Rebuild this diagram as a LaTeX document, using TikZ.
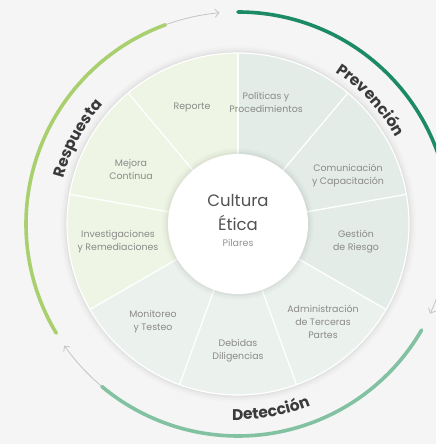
\documentclass[tikz,border=0pt]{standalone}
\usepackage{fontspec}
\setmainfont{Poppins}
\usetikzlibrary{arrows.meta,decorations.text,calc}
\definecolor{bg}{HTML}{F5F5F5}
\definecolor{respseg}{HTML}{EEF5E4}
\definecolor{prevseg}{HTML}{E3ECE7}
\definecolor{detseg}{HTML}{EBF1ED}
\definecolor{resparc}{HTML}{A9CF6E}
\definecolor{prevarc}{HTML}{1C8A66}
\definecolor{detarc}{HTML}{82C2A2}
\definecolor{lbl}{HTML}{3A3A3A}
\definecolor{seglbl}{HTML}{8A8A8A}
\definecolor{arrowgrey}{HTML}{C4C4C4}
\newcommand{\phaselabelfont}{\fontsize{15.5}{18}\selectfont\bfseries}
\begin{document}
\begin{tikzpicture}[x=1pt,y=1pt,
  seglabel/.style={align=center,text=seglbl,font=\fontsize{9.4}{13}\selectfont,inner sep=0pt},
  phasearc/.style={line width=3.6pt,line cap=round},
  greyarrow/.style={draw=arrowgrey,line width=0.8pt,-{Straight Barb[length=4pt,width=8pt]}},
  divider/.style={draw=white,line width=1.3pt}]
\useasboundingbox (0,0) rectangle (436,444);
\clip (0,0) rectangle (436,444);
\fill[bg] (0,0) rectangle (436,444);
\coordinate (O) at (238,220);
% soft shadow of ring
\foreach \r/\o in {178/0.012,176/0.018,174/0.022,172.5/0.028}{\fill[black,opacity=\o] (O) circle (\r);}
% segments
\foreach \a/\c in {90/respseg,130/respseg,170/respseg,210/detseg,250/detseg,290/detseg,330/prevseg,10/prevseg,50/prevseg}{
  \fill[\c] (O) -- ($(O)+(\a:171)$) arc[start angle=\a,end angle=\a+40,radius=171] -- cycle;}
\draw[white,line width=1.2pt] (O) circle (171);
\foreach \a in {90,130,170,210,250,290,330,10,50}{\draw[divider] (O) -- ($(O)+(\a:171)$);}
% centre circle with shadow
\foreach \r/\o in {76/0.015,74/0.02,72/0.03}{\fill[black,opacity=\o] (O) circle (\r);}
\fill[white] (O) circle (70);
\node[font=\fontsize{16.5}{22}\selectfont,text=black!68,align=center,inner sep=0pt] (c1) at (238,244) {Cultura};
\node[font=\fontsize{16.5}{22}\selectfont,text=black!68,align=center,inner sep=0pt] (c2) at (238,221) {Ética};
\node[font=\fontsize{9.5}{11}\selectfont,text=black!42,inner sep=0pt] (c3) at (238,201) {Pilares};
% segment labels
\node[seglabel] (reporte) at (192,337) {Reporte};
\node[seglabel] (politicas) at (266,342) {Políticas y\\Procedimientos};
\node[seglabel] (comunic) at (348,268) {Comunicación\\y Capacitación};
\node[seglabel] (gestion) at (356,202) {Gestión\\de Riesgo};
\node[seglabel] (admin) at (323,122) {Administración\\de Terceras\\Partes};
\node[seglabel] (debidas) at (238,93) {Debidas\\Diligencias};
\node[seglabel] (monitoreo) at (153,122) {Monitoreo\\y Testeo};
\node[seglabel] (investig) at (118,202) {Investigaciones\\y Remediaciones};
\node[seglabel] (mejora) at (131,275) {Mejora\\Continua};
% phase arcs
\draw[phasearc,resparc] ($(O)+(211:212)$) arc[start angle=211,end angle=110,radius=212];
\draw[phasearc,prevarc] ($(O)+(90:212)$) arc[start angle=90,end angle=-10,radius=212];
\draw[phasearc,detarc] ($(O)+(-30:212)$) arc[start angle=-30,end angle=-130,radius=212];
% grey arrows
\draw[greyarrow] ($(O)+(110:212)$) arc[start angle=110,end angle=95,radius=212];
\draw[greyarrow] ($(O)+(-10:212)$) arc[start angle=-10,end angle=-25,radius=212];
\draw[greyarrow] ($(O)+(-130:212)$) arc[start angle=-130,end angle=-145,radius=212];
% phase labels
\path[decorate,decoration={text along path,text={|\phaselabelfont|Respuesta},text align=center,text color=lbl}]
  ($(O)+(195:180)$) arc[start angle=195,end angle=109,radius=180];
\path[decorate,decoration={text along path,text={|\phaselabelfont|Prevención},text align=center,text color=lbl}]
  ($(O)+(86:180)$) arc[start angle=86,end angle=0,radius=180];
\path[decorate,decoration={text along path,text={|\phaselabelfont|Detección},text align=center,text color=lbl}]
  ($(O)+(-123:196)$) arc[start angle=-123,end angle=-37,radius=196];
\end{tikzpicture}
\end{document}
